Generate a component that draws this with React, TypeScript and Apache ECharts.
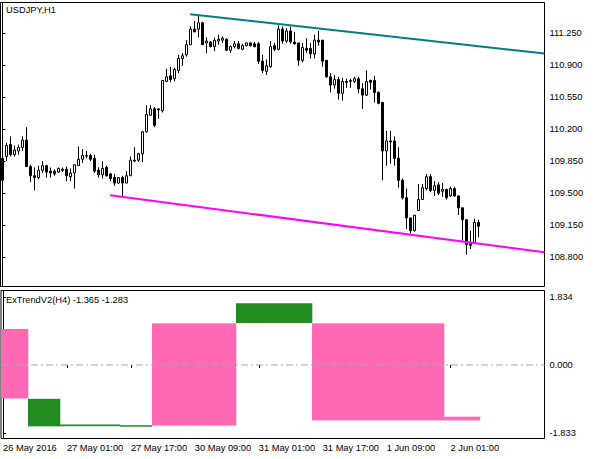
import React, { useEffect, useRef } from 'react';
import * as echarts from 'echarts';

const symbolTitle = 'USDJPY,H1';
const indicatorTitle = 'ExTrendV2(H4) -1.365 -1.283';

// 120 H1 bars + empty chart-shift space on the right
const slotCount = 136;
const tickIndex = [0, 16, 32, 48, 64, 80, 96, 112];
const tickText = ['26 May 2016', '27 May 01:00', '27 May 17:00', '30 May 09:00', '31 May 01:00', '31 May 17:00', '1 Jun 09:00', '2 Jun 01:00'];

const priceTicks = [108.8, 109.15, 109.5, 109.85, 110.2, 110.55, 110.9, 111.25];
const indTicks = [-1.833, 0, 1.834];

const open = [
  109.88, 109.90, 110.03, 109.92, 109.96, 110.00, 110.08, 109.79, 109.69, 109.67,
  109.75, 109.80, 109.74, 109.74, 109.73, 109.76, 109.76, 109.68, 109.72, 109.80,
  109.87, 109.91, 109.91, 109.88, 109.75, 109.70, 109.78, 109.71, 109.67, 109.61,
  109.67, 109.61, 109.69, 109.86, 109.86, 109.93, 110.17, 110.35, 110.42, 110.42,
  110.40, 110.72, 110.78, 110.75, 110.84, 110.97, 111.01, 111.12, 111.29, 111.29,
  111.36, 111.14, 111.15, 111.10, 111.16, 111.17, 111.18, 111.06, 111.10, 111.13,
  111.07, 111.11, 111.14, 111.13, 111.13, 110.94, 110.83, 110.88, 111.11, 111.07,
  111.29, 111.16, 111.27, 111.15, 111.14, 110.95, 111.08, 111.08, 111.02, 111.17,
  111.17, 110.95, 110.77, 110.68, 110.74, 110.59, 110.72, 110.72, 110.72, 110.75,
  110.64, 110.57, 110.73, 110.73, 110.60, 110.49, 109.96, 110.07, 110.07, 109.88,
  109.64, 109.45, 109.23, 109.09, 109.31, 109.43, 109.55, 109.68, 109.53, 109.59,
  109.52, 109.54, 109.47, 109.55, 109.47, 109.34, 109.21, 108.95, 108.96, 109.18,
];
const close = [
  109.64, 110.02, 109.92, 109.97, 110.00, 110.08, 109.79, 109.69, 109.67, 109.75,
  109.80, 109.73, 109.72, 109.71, 109.77, 109.75, 109.69, 109.72, 109.81, 109.87,
  109.91, 109.905, 109.87, 109.74, 109.70, 109.77, 109.69, 109.66, 109.61, 109.67,
  109.61, 109.69, 109.86, 109.85, 109.93, 110.17, 110.36, 110.42, 110.24, 110.41,
  110.73, 110.77, 110.74, 110.85, 110.97, 111.00, 111.12, 111.29, 111.26, 111.36,
  111.12, 111.16, 111.10, 111.17, 111.18, 111.19, 111.06, 111.10, 111.13, 111.08,
  111.11, 111.14, 111.11, 111.10, 110.94, 110.84, 110.89, 111.10, 111.07, 111.29,
  111.16, 111.27, 111.15, 111.13, 110.95, 111.09, 111.06, 111.02, 111.17, 111.15,
  110.94, 110.77, 110.68, 110.74, 110.59, 110.72, 110.71, 110.73, 110.75, 110.64,
  110.57, 110.72, 110.71, 110.60, 110.48, 109.96, 110.07, 110.06, 109.88, 109.64,
  109.45, 109.23, 109.09, 109.26, 109.43, 109.56, 109.68, 109.53, 109.58, 109.50,
  109.54, 109.45, 109.55, 109.47, 109.34, 109.21, 108.94, 108.93, 109.18, 109.14,
];
const low = [
  109.62, 109.85, 109.90, 109.90, 109.92, 109.96, 109.79, 109.62, 109.53, 109.65,
  109.72, 109.67, 109.67, 109.69, 109.72, 109.73, 109.63, 109.63, 109.55, 109.80,
  109.83, 109.88, 109.85, 109.72, 109.67, 109.66, 109.68, 109.63, 109.58, 109.60,
  109.47, 109.61, 109.69, 109.84, 109.84, 109.84, 110.16, 110.35, 110.22, 110.31,
  110.38, 110.71, 110.71, 110.72, 110.81, 110.89, 110.99, 111.12, 111.26, 111.20,
  111.12, 111.03, 111.09, 111.05, 111.12, 111.14, 111.05, 111.03, 111.08, 111.07,
  111.06, 111.10, 111.10, 111.09, 110.91, 110.81, 110.79, 110.87, 111.05, 111.06,
  111.13, 111.14, 111.13, 111.12, 110.89, 110.93, 111.03, 110.97, 110.97, 111.11,
  110.88, 110.76, 110.60, 110.64, 110.52, 110.51, 110.65, 110.65, 110.70, 110.59,
  110.42, 110.56, 110.63, 110.49, 110.47, 109.64, 109.80, 109.82, 109.80, 109.56,
  109.43, 109.11, 109.06, 109.08, 109.31, 109.43, 109.53, 109.51, 109.47, 109.48,
  109.46, 109.43, 109.46, 109.46, 109.26, 108.98, 108.83, 108.89, 108.96, 109.02,
];
const high = [
  109.90, 110.05, 110.12, 110.02, 110.03, 110.12, 110.22, 109.81, 109.78, 109.80,
  109.85, 109.81, 109.78, 109.76, 109.78, 109.78, 109.79, 109.77, 109.81, 110.01,
  109.98, 109.96, 109.93, 109.92, 109.78, 109.85, 109.80, 109.72, 109.71, 109.67,
  109.69, 109.74, 109.90, 110.00, 109.94, 110.18, 110.46, 110.46, 110.44, 110.42,
  110.73, 110.86, 110.88, 110.87, 111.01, 111.03, 111.17, 111.32, 111.38, 111.45,
  111.37, 111.20, 111.16, 111.20, 111.23, 111.21, 111.19, 111.11, 111.16, 111.16,
  111.13, 111.14, 111.14, 111.15, 111.15, 111.01, 110.96, 111.16, 111.14, 111.33,
  111.32, 111.30, 111.32, 111.26, 111.14, 111.14, 111.19, 111.14, 111.23, 111.27,
  111.17, 110.95, 110.81, 110.79, 110.77, 110.76, 110.75, 110.75, 110.77, 110.77,
  110.70, 110.84, 110.74, 110.78, 110.61, 110.49, 110.18, 110.18, 110.12, 110.00,
  109.66, 109.55, 109.23, 109.26, 109.60, 109.60, 109.71, 109.71, 109.63, 109.62,
  109.61, 109.55, 109.57, 109.57, 109.47, 109.34, 109.21, 109.09, 109.22, 109.21,
];

// Indicator histogram: per bar lower / upper value and colour (0 = pink, 1 = green)
const histLo = [
  -0.90, -0.90, -0.90, -0.90, -0.90, -0.90, -0.90,
  -1.65, -1.65, -1.65, -1.65, -1.65, -1.65, -1.65, -1.65,
  -1.645, -1.645, -1.645, -1.645, -1.645, -1.645, -1.645, -1.645, -1.645, -1.645, -1.645, -1.645, -1.645, -1.645, -1.645,
  -1.66, -1.66, -1.66, -1.66, -1.66, -1.66, -1.66, -1.66,
  -1.63, -1.63, -1.63, -1.63, -1.63, -1.63, -1.63, -1.63, -1.63, -1.63, -1.63, -1.63, -1.63, -1.63, -1.63, -1.63, -1.63, -1.63, -1.63, -1.63, -1.63,
  1.13, 1.13, 1.13, 1.13, 1.13, 1.13, 1.13, 1.13, 1.13, 1.13, 1.13, 1.13, 1.13, 1.13, 1.13, 1.13, 1.13, 1.13, 1.13,
  -1.49, -1.49, -1.49, -1.49, -1.49, -1.49, -1.49, -1.49, -1.49, -1.49, -1.49, -1.49, -1.49, -1.49, -1.49, -1.49, -1.49,
  -1.49, -1.49, -1.49, -1.49, -1.49, -1.49, -1.49, -1.49, -1.49, -1.49, -1.49, -1.49, -1.49, -1.49, -1.49, -1.49,
  -1.49, -1.49, -1.49, -1.49, -1.49, -1.49, -1.49, -1.49, -1.49,
];
const histHi = [
  0.97, 0.97, 0.97, 0.97, 0.97, 0.97, 0.97,
  -0.91, -0.91, -0.91, -0.91, -0.91, -0.91, -0.91, -0.91,
  -1.60, -1.60, -1.60, -1.60, -1.60, -1.60, -1.60, -1.60, -1.60, -1.60, -1.60, -1.60, -1.60, -1.60, -1.60,
  -1.62, -1.62, -1.62, -1.62, -1.62, -1.62, -1.62, -1.62,
  1.12, 1.12, 1.12, 1.12, 1.12, 1.12, 1.12, 1.12, 1.12, 1.12, 1.12, 1.12, 1.12, 1.12, 1.12, 1.12, 1.12, 1.12, 1.12, 1.12, 1.12,
  1.66, 1.66, 1.66, 1.66, 1.66, 1.66, 1.66, 1.66, 1.66, 1.66, 1.66, 1.66, 1.66, 1.66, 1.66, 1.66, 1.66, 1.66, 1.66,
  1.12, 1.12, 1.12, 1.12, 1.12, 1.12, 1.12, 1.12, 1.12, 1.12, 1.12, 1.12, 1.12, 1.12, 1.12, 1.12, 1.12,
  1.12, 1.12, 1.12, 1.12, 1.12, 1.12, 1.12, 1.12, 1.12, 1.12, 1.12, 1.12, 1.12, 1.12, 1.12, 1.12,
  -1.39, -1.39, -1.39, -1.39, -1.39, -1.39, -1.39, -1.39, -1.39,
];
const histColor = [
  0, 0, 0, 0, 0, 0, 0,
  1, 1, 1, 1, 1, 1, 1, 1,
  1, 1, 1, 1, 1, 1, 1, 1, 1, 1, 1, 1, 1, 1, 1,
  1, 1, 1, 1, 1, 1, 1, 1,
  0, 0, 0, 0, 0, 0, 0, 0, 0, 0, 0, 0, 0, 0, 0, 0, 0, 0, 0, 0, 0,
  1, 1, 1, 1, 1, 1, 1, 1, 1, 1, 1, 1, 1, 1, 1, 1, 1, 1, 1,
  0, 0, 0, 0, 0, 0, 0, 0, 0, 0, 0, 0, 0, 0, 0, 0, 0,
  0, 0, 0, 0, 0, 0, 0, 0, 0, 0, 0, 0, 0, 0, 0, 0,
  0, 0, 0, 0, 0, 0, 0, 0, 0,
];

// Trend lines: [bar position, price]
const upperTrend = [[46.9, 111.453], [135.5, 111.024]];
const lowerTrend = [[26.9, 109.477], [135.5, 108.855]];
const zeroLine = [[-0.5, 0], [135.5, 0]];

const FONT = '"Liberation Sans", Arial, sans-serif';
const FS = 9.3;
const PINK = '#ff69b4';
const GREEN = '#228b22';

const categories = Array.from({ length: slotCount }, (_, i) => 'b' + i);
const labelFor = (i: number) => {
  const k = tickIndex.indexOf(i);
  return k >= 0 ? tickText[k] : '';
};

export default function App() {
  const ref = useRef<HTMLDivElement>(null);
  useEffect(() => {
    if (!ref.current) return;
    const chart = echarts.init(ref.current, null, { renderer: 'svg' });
    const option: any = {
      animation: false,
      backgroundColor: '#fff',
      textStyle: { fontFamily: FONT },
      grid: [
        { left: 0.5, top: 2.5, width: 544, height: 284, show: true, borderColor: '#000', borderWidth: 1, backgroundColor: '#fff' },
        { left: 0.5, top: 290.5, width: 544, height: 148, show: true, borderColor: '#000', borderWidth: 1, backgroundColor: '#fff' },
      ],
      xAxis: [
        {
          type: 'category', gridIndex: 0, data: categories, boundaryGap: true,
          axisLine: { show: false }, axisTick: { show: false }, axisLabel: { show: false }, splitLine: { show: false },
        },
        {
          type: 'category', gridIndex: 1, data: categories, boundaryGap: true,
          axisLine: { show: false },
          axisTick: {
            show: true, alignWithLabel: true, length: 3,
            interval: (idx: number) => idx !== 0 && tickIndex.includes(idx),
            lineStyle: { color: '#000' },
          },
          axisLabel: {
            show: true, interval: (idx: number) => tickIndex.includes(idx),
            formatter: (_v: string, idx: number) => labelFor(idx),
            align: 'left', margin: 5, color: '#000', fontSize: FS, fontFamily: FONT,
          },
          splitLine: { show: false },
        },
        { type: 'value', gridIndex: 0, min: -0.5, max: slotCount - 0.5, show: false },
        { type: 'value', gridIndex: 1, min: -0.5, max: slotCount - 0.5, show: false },
      ],
      yAxis: [
        {
          type: 'value', gridIndex: 0, position: 'right', min: 108.481, max: 111.581,
          splitLine: { show: false },
          axisLine: { show: true, lineStyle: { color: '#000' } },
          axisTick: { show: true, length: 3, customValues: priceTicks, lineStyle: { color: '#000' } },
          axisLabel: {
            customValues: priceTicks, formatter: (v: number) => v.toFixed(3),
            margin: 5, color: '#000', fontSize: FS, fontFamily: FONT,
          },
        },
        {
          type: 'value', gridIndex: 1, position: 'right', min: -1.977, max: 2.003,
          splitLine: { show: false },
          axisLine: { show: true, lineStyle: { color: '#000' } },
          axisTick: { show: true, length: 3, customValues: indTicks, lineStyle: { color: '#000' } },
          axisLabel: {
            customValues: indTicks, formatter: (v: number) => v.toFixed(3),
            margin: 5, color: '#000', fontSize: FS, fontFamily: FONT,
          },
        },
      ],
      graphic: [
        { type: 'text', x: 6, y: 10, z: 100, style: { text: symbolTitle, fill: '#000', font: `${FS}px ${FONT}`, verticalAlign: 'middle' } },
        { type: 'text', x: 6, y: 299.5, z: 100, style: { text: indicatorTitle, fill: '#000', font: `${FS}px ${FONT}`, verticalAlign: 'middle' } },
      ],
      series: [
        {
          type: 'candlestick', xAxisIndex: 0, yAxisIndex: 0, barWidth: 2,
          data: open.map((o, i) => [o, close[i], low[i], high[i]]),
          itemStyle: { color: '#fff', color0: '#000', borderColor: '#000', borderColor0: '#000', borderWidth: 1 },
          silent: true,
        },
        {
          type: 'line', xAxisIndex: 2, yAxisIndex: 0, data: upperTrend, showSymbol: false, silent: true,
          lineStyle: { color: '#008080', width: 2 },
        },
        {
          type: 'line', xAxisIndex: 2, yAxisIndex: 0, data: lowerTrend, showSymbol: false, silent: true,
          lineStyle: { color: '#ff00ff', width: 2 },
        },
        {
          type: 'custom', xAxisIndex: 1, yAxisIndex: 1,
          data: histLo.map((lo, i) => [i, lo, histHi[i], histColor[i]]),
          encode: { x: 0, y: [1, 2] },
          renderItem: (_p: any, api: any) => {
            const i = api.value(0);
            const p1 = api.coord([i, api.value(2)]);
            const p2 = api.coord([i, api.value(1)]);
            const w = api.size([1, 0])[0];
            const x0 = Math.floor(p1[0] - w / 2);
            const x1 = Math.floor(p1[0] + w / 2);
            return {
              type: 'rect',
              shape: { x: x0, y: p1[1], width: x1 - x0 + 0.3, height: p2[1] - p1[1] },
              style: { fill: api.value(3) === 1 ? GREEN : PINK },
            };
          },
        },
        {
          type: 'line', xAxisIndex: 3, yAxisIndex: 1, data: zeroLine, showSymbol: false, silent: true, z: 5,
          lineStyle: { color: '#a8a8a8', width: 1, type: [7, 3, 2, 3] },
        },
      ],
    };
    chart.setOption(option);
    return () => chart.dispose();
  }, []);
  return (
    <div
      ref={ref}
      style={{ position: 'absolute', left: 0, top: 0, width: 597, height: 459, background: '#fff' }}
    />
  );
}
